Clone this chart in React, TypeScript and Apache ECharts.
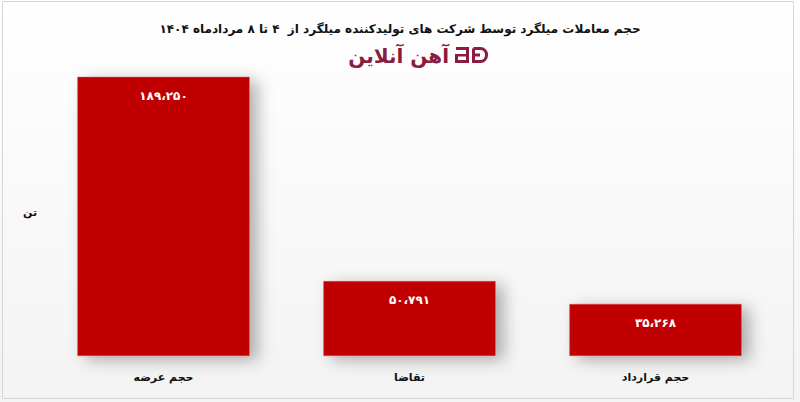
import React, { useEffect, useRef } from "react";
import * as echarts from "echarts";

const categories = ["حجم عرضه", "تقاضا", "حجم قرارداد"];
const values = [189250, 50791, 35268];
const valueLabels = ["۱۸۹،۲۵۰", "۵۰،۷۹۱", "۳۵،۲۶۸"];
const titleText = "حجم معاملات میلگرد توسط شرکت های تولیدکننده میلگرد از  ۴ تا ۸ مردادماه ۱۴۰۴";
const logoText = "آهن آنلاین";
const unitText = "تن";

const FONT = "'DejaVu Sans', sans-serif";
const MAROON = "#8a1c3f";

export default function App() {
  const ref = useRef<HTMLDivElement>(null);
  useEffect(() => {
    document.body.style.margin = "0";
    const chart = echarts.init(ref.current!, null, { renderer: "svg" });
    chart.setOption({
      animation: false,
      backgroundColor: new echarts.graphic.LinearGradient(0, 0, 0, 1, [
        { offset: 0, color: "#ffffff" },
        { offset: 1, color: "#f3f3f3" },
      ]),
      title: {
        text: titleText,
        left: "center",
        top: 18,
        textStyle: { fontFamily: FONT, fontSize: 12, fontWeight: "bold", color: "#111" },
      },
      grid: { left: 40.5, right: 21.5, top: 61, bottom: 46 },
      xAxis: {
        type: "category",
        data: categories,
        axisLine: { show: false },
        axisTick: { show: false },
        axisLabel: { fontFamily: FONT, fontSize: 11, fontWeight: "bold", color: "#111", margin: 16 },
      },
      yAxis: {
        type: "value",
        min: 0,
        max: 200000,
        show: false,
        splitLine: { show: false },
      },
      graphic: [
        {
          type: "rect",
          shape: { x: 2.5, y: 1.5, width: 791, height: 397 },
          style: { fill: "none", stroke: "#d6d6d6", lineWidth: 1 },
          silent: true,
        },
        {
          type: "text",
          x: 30,
          y: 212,
          style: { text: unitText, font: "bold 11px " + FONT, fill: "#111", align: "center", verticalAlign: "middle" },
        },
        {
          type: "text",
          x: 449,
          y: 56,
          style: { text: logoText, font: "bold 20px " + FONT, fill: MAROON, align: "right", verticalAlign: "middle" },
        },
        {
          type: "group",
          x: 455,
          y: 47,
          children: [
            { type: "rect", shape: { x: 1, y: 0, width: 12, height: 3 }, style: { fill: MAROON } },
            { type: "rect", shape: { x: 11, y: 0, width: 3, height: 16 }, style: { fill: MAROON } },
            { type: "rect", shape: { x: 0, y: 13, width: 14, height: 3 }, style: { fill: MAROON } },
            { type: "rect", shape: { x: 0, y: 7, width: 3, height: 9 }, style: { fill: MAROON } },
            { type: "rect", shape: { x: 0, y: 7, width: 14, height: 2.5 }, style: { fill: MAROON } },
            {
              type: "rect",
              shape: { x: 18.5, y: 1.5, width: 13, height: 13, r: [0, 6, 6, 0] },
              style: { fill: "none", stroke: MAROON, lineWidth: 3 },
            },
            { type: "rect", shape: { x: 17, y: 6.5, width: 8, height: 3 }, style: { fill: MAROON } },
          ],
        },
      ],
      series: [
        {
          type: "bar",
          data: values,
          barCategoryGap: "30%",
          itemStyle: {
            color: "#c00000",
            borderColor: "#d84a4a",
            borderWidth: 0.5,
            shadowColor: "rgba(0,0,0,0.3)",
            shadowBlur: 16,
            shadowOffsetX: 8,
            shadowOffsetY: 4,
          },
          label: {
            show: true,
            position: "insideTop",
            distance: 13,
            formatter: (p: any) => valueLabels[p.dataIndex],
            fontFamily: FONT,
            fontSize: 12,
            fontWeight: "bold",
            color: "#ffffff",
          },
        },
      ],
    });
    return () => chart.dispose();
  }, []);
  return <div ref={ref} style={{ width: 800, height: 402 }} />;
}
